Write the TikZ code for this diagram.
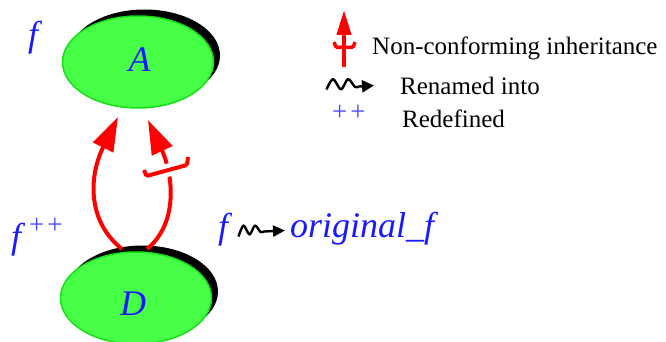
\documentclass[tikz,border=0pt]{standalone}
\usepackage{fontspec}
\setmainfont{Liberation Serif}
\usetikzlibrary{arrows.meta,shapes.geometric,shadows}
\definecolor{fillgreen}{RGB}{72,255,72}
\definecolor{edgegreen}{RGB}{20,225,20}
\definecolor{lblue}{RGB}{25,25,255}
\definecolor{pblue}{RGB}{70,70,255}
\definecolor{lred}{RGB}{255,0,0}
\begin{document}
\begin{tikzpicture}[x=1pt,y=-1pt,
  cls/.style={ellipse, minimum width=151pt, minimum height=92pt, inner sep=0pt,
    fill=fillgreen, draw=edgegreen, line width=1.5pt,
    general shadow={fill=black, shadow xshift=6.5pt, shadow yshift=6.5pt}},
  bigit/.style={font=\fontsize{36}{40}\selectfont\itshape, text=lblue, inner sep=0pt, anchor=base west},
  legtxt/.style={font=\fontsize{25}{28}\selectfont, text=black, inner sep=0pt, anchor=base west},
  inh/.style={draw=lred, line width=4pt, -{Triangle[length=34pt,width=22pt]}},
  cupmark/.style={draw=lred, line width=4pt, rounded corners=1.5pt},
  squig/.style={draw=black, line width=2.4pt, line join=round, -{Triangle[length=12pt,width=11pt]}},
  plusses/.style={font=\fontsize{27}{30}\selectfont, text=pblue, inner sep=0pt, anchor=base west}]
\useasboundingbox (0,0) rectangle (666,342);

% classes
\node[cls] (A) at (138,62) {};
\node[cls] (D) at (136,298) {};
\node[bigit, anchor=base] (Alab) at (139.5,72) {A};
\node[bigit, anchor=base] (Dlab) at (133,315) {D};

% feature labels
\node[bigit] (fA) at (28,47) {f};
\node[bigit] (fD) at (11,248) {f};
\node[plusses] (ppD) at (29,233) {+\kern3pt+};
\node[bigit] (fR) at (218,238) {f};
\node[bigit] (orig) at (290,237) {original\_f};

% inheritance connectors
\coordinate (d1) at (122,249);
\coordinate (d2) at (147,249);
\coordinate (a1) at (118,117);
\coordinate (a2) at (148,120);
\draw[inh] (d1) .. controls (88,222) and (88,178) .. (a1);
\draw[inh] (d2) .. controls (180,222) and (172,172) .. (a2);
\draw[cupmark, preaction={draw=white, line width=13pt}] (144,170) -- (146.5,176) -- (187,165) -- (188,157);

% renamed-into symbol in the picture
\draw[squig] plot[smooth, tension=0.5] coordinates {(238.5,236.5) (243.5,225.5) (249.5,234.5) (255,225.5) (260.5,232) (264,231.5)} -- (285,230.5);

% legend
\draw[draw=lred, line width=4pt, -{Triangle[length=25pt,width=14pt]}] (344,67) -- (344,10);
\draw[cupmark, line width=3.5pt] (334,42) -- (336,47.5) -- (353,47.5) -- (355,42);
\node[legtxt] (l1) at (372,55) {Non-conforming inheritance};
\draw[squig, -{Triangle[length=12pt,width=12pt]}] plot[smooth, tension=0.5] coordinates {(326.5,89.5) (333,79) (341,89.5) (348,79) (355,87) (359,86.5)} -- (374,85.5);
\node[legtxt] (l2) at (400,95) {Renamed into};
\node[plusses] (pp) at (332,121) {+\kern3pt+};
\node[legtxt] (l3) at (402,128) {Redefined};
\end{tikzpicture}
\end{document}
